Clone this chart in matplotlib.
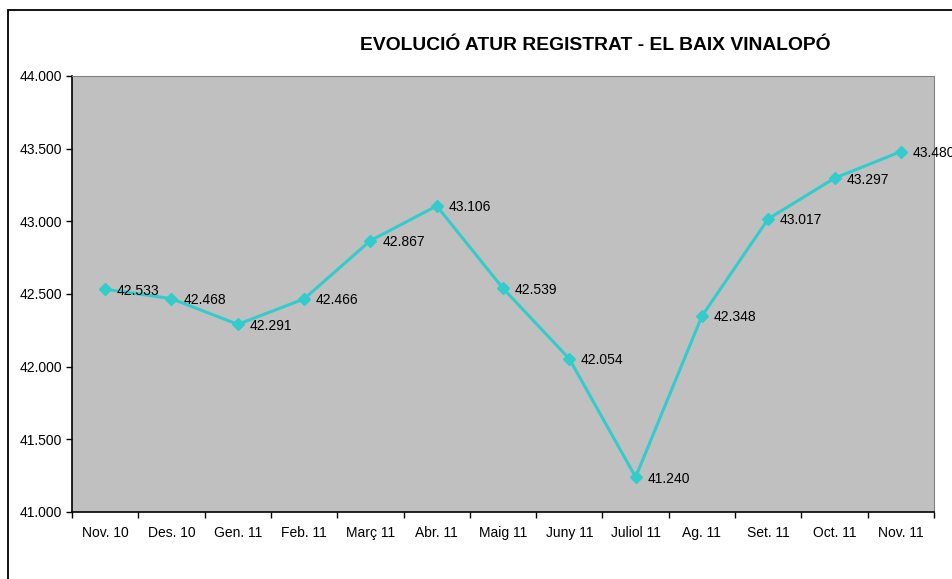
import matplotlib
matplotlib.use("Agg")
import matplotlib.pyplot as plt
from matplotlib.patches import Rectangle
from matplotlib.ticker import FixedLocator, FuncFormatter

plt.rcParams['font.family'] = ['Liberation Sans', 'DejaVu Sans']

months = ["Nov. 10", "Des. 10", "Gen. 11", "Feb. 11", "Març 11", "Abr. 11", "Maig 11",
          "Juny 11", "Juliol 11", "Ag. 11", "Set. 11", "Oct. 11", "Nov. 11"]
atur = [42533, 42468, 42291, 42466, 42867, 43106, 42539, 42054, 41240, 42348, 43017, 43297, 43480]
y_ticks = [41000, 41500, 42000, 42500, 43000, 43500, 44000]

def fmt_es(v, pos=None):
    return f"{v:,.0f}".replace(",", ".")

fig = plt.figure(figsize=(9.53, 5.79), dpi=100)

# outer chart border (continues past the right and bottom edges)
fig.patches.append(Rectangle((8 / 953, -0.05), 1.5, 1 - 10 / 579 + 0.05,
                             transform=fig.transFigure, fill=False,
                             edgecolor="black", linewidth=1.3, zorder=0))

ax = fig.add_axes([72 / 953, 67 / 579, 862 / 953, 436 / 579])
ax.set_facecolor("#C0C0C0")

x = list(range(len(months)))
ax.plot(x, atur, color="#33CCCC", linewidth=2.2, marker="D", markersize=6.5,
        markerfacecolor="#33CCCC", markeredgecolor="#33CCCC", zorder=3, clip_on=False)

for xi, v in zip(x, atur):
    ax.annotate(fmt_es(v), (xi, v), xytext=(8.5, -1), textcoords="offset points",
                ha="left", va="center", fontsize=10, color="black",
                annotation_clip=False, zorder=4)

ax.set_xlim(-0.5, len(months) - 0.5)
ax.set_ylim(41000, 44000)
ax.set_yticks(y_ticks)
ax.yaxis.set_major_formatter(FuncFormatter(fmt_es))

ax.set_xticks(x)
ax.set_xticklabels(months)
ax.xaxis.set_minor_locator(FixedLocator([i - 0.5 for i in range(len(months) + 1)]))
ax.tick_params(axis="x", which="major", length=0, pad=10, labelsize=10)
ax.tick_params(axis="x", which="minor", length=4, width=1, direction="out", color="black")
ax.tick_params(axis="y", which="major", length=4, width=1, direction="out", labelsize=10, pad=3)

ax.spines["left"].set_color("black")
ax.spines["bottom"].set_color("black")
ax.spines["left"].set_linewidth(1.2)
ax.spines["bottom"].set_linewidth(1.2)
ax.spines["top"].set_color("#808080")
ax.spines["right"].set_color("#808080")

fig.text(595 / 953, 1 - 46 / 579, "EVOLUCIÓ ATUR REGISTRAT - EL BAIX VINALOPÓ",
         ha="center", va="center", fontsize=13.9, fontweight="bold")

fig.savefig("out.png", dpi=100)
